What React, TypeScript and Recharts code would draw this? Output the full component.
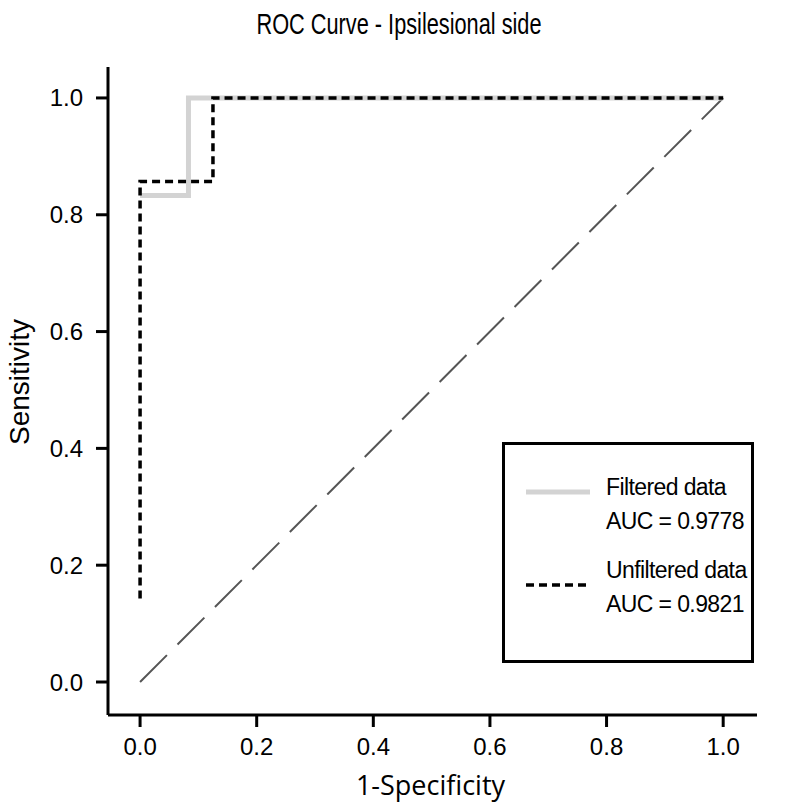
import React from 'react';
import { LineChart, Line, XAxis, YAxis, Legend, Label, Customized } from 'recharts';

// ── Data ──────────────────────────────────────────────────────────────────

const TITLE = 'ROC Curve - Ipsilesional side';
const X_TITLE = '1-Specificity';
const Y_TITLE = 'Sensitivity';

const AXIS_TICKS = [0, 0.2, 0.4, 0.6, 0.8, 1.0];

// 1-specificity / sensitivity pairs
const filteredX = [0, 0.083, 0.083, 1];
const filteredY = [0.833, 0.833, 1, 1];

const unfilteredX = [0, 0, 0.125, 0.125, 1];
const unfilteredY = [0.143, 0.857, 0.857, 1, 1];

const chanceX = [0, 1];
const chanceY = [0, 1];

const SERIES_NAMES = ['Filtered data', 'Unfiltered data'];
const SERIES_AUC = ['0.9778', '0.9821'];

const zip = (xs: number[], ys: number[]) => xs.map((x, i) => ({ x, y: ys[i] }));

const filtered = zip(filteredX, filteredY);
const unfiltered = zip(unfilteredX, unfilteredY);
const chance = zip(chanceX, chanceY);

// ── Styles ────────────────────────────────────────────────────────────────

const FONT = '"Liberation Sans", Arial, Helvetica, sans-serif';
const GREY = '#d3d3d3';
const DASH = '8 5';

function XTick({ x, y, payload }: any) {
  return (
    <text x={x} y={(y ?? 0) + 26} textAnchor="middle" fontFamily={FONT} fontSize={24} fill="#000">
      {Number(payload?.value).toFixed(1)}
    </text>
  );
}

function YTick({ x, y, payload }: any) {
  return (
    <text x={(x ?? 0) - 11} y={(y ?? 0) + 8.5} textAnchor="end" fontFamily={FONT} fontSize={24} fill="#000">
      {Number(payload?.value).toFixed(1)}
    </text>
  );
}

// legend drawn as its own little svg box, placed over the lower right of the plot
function LegendBox() {
  const swatches = [
    <line key="f" x1={24} y1={50} x2={88} y2={50} stroke={GREY} strokeWidth={5} />,
    <line key="u" x1={24} y1={143} x2={88} y2={143} stroke="#000" strokeWidth={3.5} strokeDasharray={DASH} />,
  ];
  const rowTop = [53, 136];
  const textStyle = { fontFamily: FONT, fontSize: 23, letterSpacing: -0.6 };
  return (
    <svg width={252} height={221} style={{ display: 'block' }}>
      <rect x={1.5} y={1.5} width={249} height={218} fill="#fff" stroke="#000" strokeWidth={3} />
      {SERIES_NAMES.map((name, i) => (
        <g key={name}>
          {swatches[i]}
          <text x={104} y={rowTop[i]} fill="#000" style={textStyle}>
            {name}
          </text>
          <text x={104} y={rowTop[i] + 34} fill="#000" style={textStyle}>
            {`AUC = ${SERIES_AUC[i]}`}
          </text>
        </g>
      ))}
    </svg>
  );
}

function Title() {
  return (
    <text
      x={399}
      y={34}
      textAnchor="middle"
      fontFamily={FONT}
      fontSize={30}
      textLength={285}
      lengthAdjust="spacingAndGlyphs"
      fill="#000"
    >
      {TITLE}
    </text>
  );
}

export default function App() {
  return (
    <div style={{ position: 'absolute', left: 0, top: 0, width: 800, height: 811, background: '#fff' }}>
      <LineChart width={800} height={811} margin={{ top: 67, right: 43, bottom: 56, left: 48 }}>
        <XAxis
          type="number"
          dataKey="x"
          domain={[-0.055, 1.058]}
          allowDataOverflow
          ticks={AXIS_TICKS}
          tick={XTick}
          height={40}
          tickSize={12}
          axisLine={{ stroke: '#000', strokeWidth: 3 }}
          tickLine={{ stroke: '#000', strokeWidth: 3 }}
        >
          <Label
            content={({ viewBox }: any) => (
              <text
                x={viewBox.x + viewBox.width / 2 - 2}
                y={795}
                textAnchor="middle"
                fontFamily='"Open Sans", sans-serif'
                fontSize={27}
                fill="#000"
              >
                {X_TITLE}
              </text>
            )}
          />
        </XAxis>
        <YAxis
          type="number"
          dataKey="y"
          domain={[-0.0565, 1.053]}
          allowDataOverflow
          ticks={AXIS_TICKS}
          tick={YTick}
          width={60}
          tickSize={12}
          axisLine={{ stroke: '#000', strokeWidth: 3 }}
          tickLine={{ stroke: '#000', strokeWidth: 3 }}
        >
          <Label
            content={() => (
              <text
                x={29}
                y={382}
                transform="rotate(-90 29 382)"
                textAnchor="middle"
                fontFamily={FONT}
                fontSize={28}
                fill="#000"
              >
                {Y_TITLE}
              </text>
            )}
          />
        </YAxis>
        <Line
          data={chance}
          dataKey="y"
          type="linear"
          stroke="#555"
          strokeWidth={2}
          strokeDasharray="38 15"
          dot={false}
          activeDot={false}
          legendType="none"
          isAnimationActive={false}
        />
        <Line
          data={filtered}
          dataKey="y"
          name={SERIES_NAMES[0]}
          type="linear"
          stroke={GREY}
          strokeWidth={5}
          dot={false}
          activeDot={false}
          isAnimationActive={false}
        />
        <Line
          data={unfiltered}
          dataKey="y"
          name={SERIES_NAMES[1]}
          type="linear"
          stroke="#000"
          strokeWidth={3.5}
          strokeDasharray={DASH}
          dot={false}
          activeDot={false}
          isAnimationActive={false}
        />
        <Legend
          layout="vertical"
          align="center"
          verticalAlign="middle"
          content={() => <LegendBox />}
          wrapperStyle={{ left: 502, top: 442, width: 252, height: 221 }}
        />
        <Customized component={Title} />
      </LineChart>
    </div>
  );
}
